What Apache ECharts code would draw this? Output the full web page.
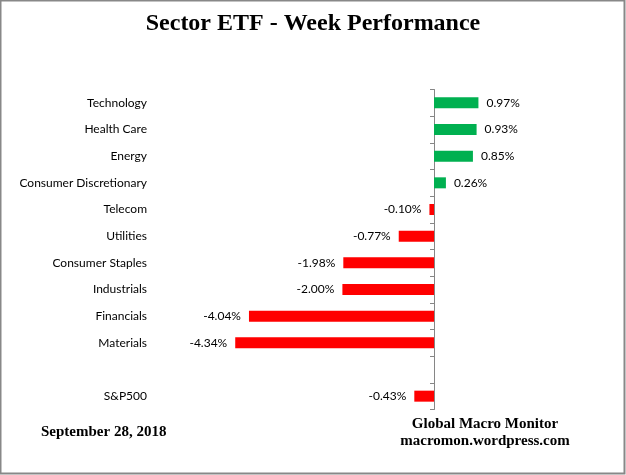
<!DOCTYPE html>
<html><head><meta charset="utf-8">
<script src="https://cdn.jsdelivr.net/npm/echarts@6/dist/echarts.min.js"></script>
<style>html,body{margin:0;padding:0;background:#fff}#c{width:626px;height:475px}</style>
</head><body><div id="c"></div>
<script>
const categories = ['Technology','Health Care','Energy','Consumer Discretionary','Telecom','Utilities','Consumer Staples','Industrials','Financials','Materials','','S&P500'];
const weekPerformance = [0.97,0.93,0.85,0.26,-0.10,-0.77,-1.98,-2.00,-4.04,-4.34,null,-0.43];
const titleText = 'Sector ETF - Week Performance';
const dateText = 'September 28, 2018';
const sourceLines = ['Global Macro Monitor','macromon.wordpress.com'];

const chart = echarts.init(document.getElementById('c'));
const axisX = 434, pxPerUnit = 45.8, xMin = -5, xMax = 2;
const gridLeft = axisX + xMin * pxPerUnit;
const gridWidth = (xMax - xMin) * pxPerUnit;
const labelRight = 147;
chart.setOption({
  animation: false,
  title: {text: titleText, left: 'center', top: 7,
    textStyle: {fontFamily: 'Liberation Serif', fontWeight: 'bold', fontSize: 24, color: '#000'}},
  grid: {left: gridLeft, width: gridWidth, top: 89.5, bottom: 65.5, containLabel: false, outerBoundsMode: 'none'},
  xAxis: {type: 'value', min: xMin, max: xMax, show: false},
  yAxis: [
    {type: 'category', data: categories, inverse: true,
      axisLine: {show: true, onZero: true, lineStyle: {color: '#868686', width: 1}},
      axisTick: {show: true, length: 4, inside: false, lineStyle: {color: '#868686'}},
      axisLabel: {show: false}},
    {type: 'category', data: categories, inverse: true, position: 'left', offset: gridLeft - labelRight - 8,
      axisLine: {show: false, onZero: false}, axisTick: {show: false},
      axisLabel: {show: true, margin: 8, color: '#000', fontFamily: 'Lato', fontSize: 12, interval: 0}}
  ],
  series: [{type: 'bar', barWidth: 11, yAxisIndex: 0,
    data: weekPerformance.map(v => v === null ? null : {value: v,
      itemStyle: {color: v >= 0 ? '#00B050' : '#FF0000'},
      label: {position: v >= 0 ? 'right' : 'left'}}),
    label: {show: true, distance: 8, color: '#000', fontFamily: 'Lato', fontSize: 12,
      formatter: p => p.value.toFixed(2) + '%'}}],
  graphic: [
    {type: 'rect', shape: {x: 0.5, y: 0.5, width: 624, height: 473}, style: {fill: 'none', stroke: '#888', lineWidth: 2}, silent: true},
    {type: 'text', left: 41, top: 425, style: {text: dateText, font: 'bold 15px "Liberation Serif"', fill: '#000'}},
    {type: 'text', x: 485, y: 416, style: {text: sourceLines.join('\n'), textAlign: 'center', lineHeight: 17, font: 'bold 15px "Liberation Serif"', fill: '#000'}}
  ]
});
</script></body></html>
